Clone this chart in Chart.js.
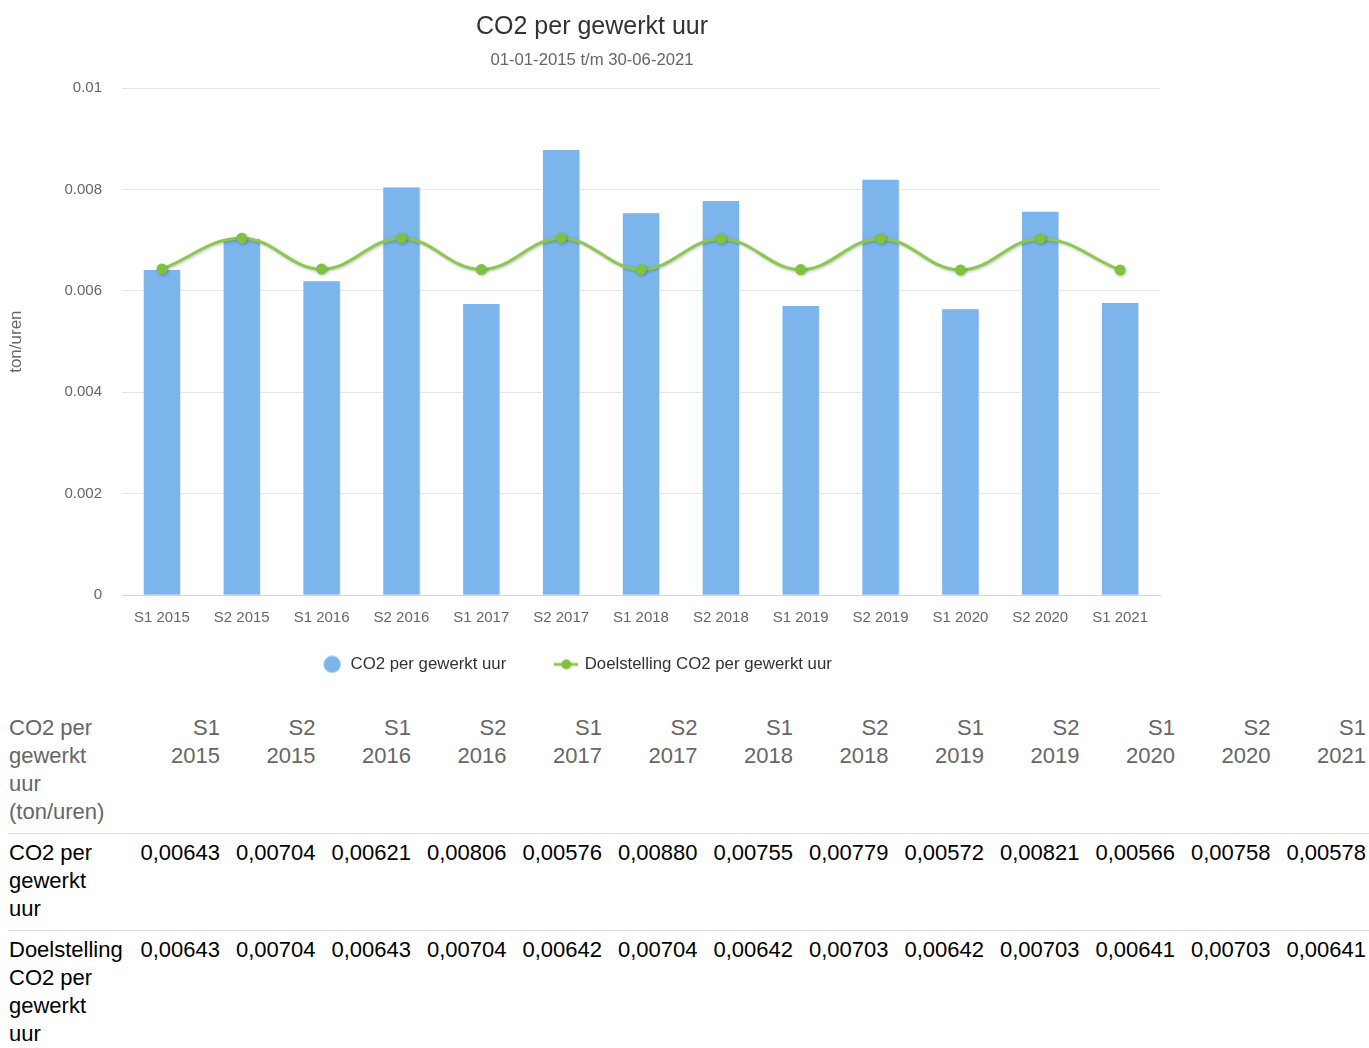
<!DOCTYPE html>
<html>
<head>
<meta charset="utf-8">
<title>CO2 per gewerkt uur</title>
<script src="https://cdn.jsdelivr.net/npm/chart.js@4.4.0/dist/chart.umd.min.js"></script>
<style>
    body { margin: 0; background: #fff; font-family: "Liberation Sans", Arial, sans-serif; }
    #chartBox { position: absolute; left: 0; top: 0; width: 1184px; height: 704px; }
    #dataTable { position: absolute; left: 9px; top: 709px; width: 1360px; border-collapse: collapse; table-layout: fixed; font-size: 22px; line-height: 28px; }
    #dataTable th, #dataTable td { padding: 5px 3px 7px 0; text-align: right; vertical-align: top; font-weight: normal; white-space: nowrap; }
    #dataTable thead th { color: #666; }
    #dataTable tbody th, #dataTable tbody td { color: #000; border-top: 1px solid #ddd; }
    #dataTable .rowHead { text-align: left; }
</style>
</head>
<body>
<div id="chartBox"><canvas id="myChart"></canvas></div>
<table id="dataTable"></table>

<script>
// chart data
const categories = ['S1 2015', 'S2 2015', 'S1 2016', 'S2 2016', 'S1 2017', 'S2 2017', 'S1 2018',
    'S2 2018', 'S1 2019', 'S2 2019', 'S1 2020', 'S2 2020', 'S1 2021'];
const co2PerHour = [0.00643, 0.00704, 0.00621, 0.00806, 0.00576, 0.00880, 0.00755,
    0.00779, 0.00572, 0.00821, 0.00566, 0.00758, 0.00578];
const co2Target = [0.00643, 0.00704, 0.00643, 0.00704, 0.00642, 0.00704, 0.00642,
    0.00703, 0.00642, 0.00703, 0.00641, 0.00703, 0.00641];

const barName = 'CO2 per gewerkt uur';
const lineName = 'Doelstelling CO2 per gewerkt uur';

Chart.defaults.font.family = '"Liberation Sans", Arial, sans-serif';

/* small canvases used as legend symbols */
function legendDot(color) {
    const c = document.createElement('canvas');
    c.width = 18; c.height = 18;
    const g = c.getContext('2d');
    g.fillStyle = color;
    g.beginPath(); g.arc(9, 9, 8.5, 0, Math.PI * 2); g.fill();
    return c;
}

function legendLine(lineColor, dotColor) {
    const c = document.createElement('canvas');
    c.width = 24; c.height = 12;
    const g = c.getContext('2d');
    g.strokeStyle = lineColor; g.lineWidth = 3;
    g.beginPath(); g.moveTo(0, 6); g.lineTo(24, 6); g.stroke();
    g.fillStyle = dotColor;
    g.beginPath(); g.arc(12, 6, 5, 0, Math.PI * 2); g.fill();
    return c;
}

const dotImg = legendDot('#7cb5ec');
const lineImg = legendLine('#8cc850', '#7fc23f');

// soft shadow under the series, like the original
const shadowPlugin = {
    id: 'seriesShadow',
    beforeDatasetDraw(chart, args) {
        const ctx = chart.ctx;
        ctx.save();
        ctx.shadowColor = args.index === 1 ? 'rgba(0,0,0,0.25)' : 'rgba(0,0,0,0.12)';
        ctx.shadowBlur = args.index === 1 ? 3 : 2;
        ctx.shadowOffsetX = 1;
        ctx.shadowOffsetY = 1;
    },
    afterDatasetDraw(chart) {
        chart.ctx.restore();
    }
};

// pull the legend up under the axis labels and a bit to the left
const legendPlace = {
    id: 'legendPlace',
    afterLayout(chart) {
        const lg = chart.legend;
        const h = lg.bottom - lg.top;
        lg.top = 606;
        lg.bottom = 606 + h;
        lg.left -= 15;
        lg.right -= 15;
    }
};

new Chart('myChart', {
    type: 'bar',
    data: {
        labels: categories,
        datasets: [{
            type: 'bar',
            label: barName,
            data: co2PerHour,
            backgroundColor: '#7cb5ec',
            borderColor: '#ffffff',
            borderWidth: 1,
            barPercentage: 0.6,
            categoryPercentage: 0.8,
            order: 1
        }, {
            type: 'line',
            label: lineName,
            data: co2Target,
            borderColor: '#8cc850',
            borderWidth: 3,
            tension: 0.4,
            pointRadius: 5.5,
            pointBackgroundColor: '#7fc23f',
            pointBorderWidth: 0,
            fill: false,
            order: 0
        }]
    },
    plugins: [shadowPlugin, legendPlace],
    options: {
        responsive: true,
        maintainAspectRatio: false,
        animation: false,
        layout: { padding: 0 },
        plugins: {
            title: {
                display: true,
                text: 'CO2 per gewerkt uur',
                color: '#333',
                font: { size: 25, weight: 'normal' },
                padding: { top: 12, bottom: 3 }
            },
            subtitle: {
                display: true,
                text: '01-01-2015 t/m 30-06-2021',
                color: '#666',
                font: { size: 16.7 },
                padding: { top: 5, bottom: 18 }
            },
            legend: {
                position: 'bottom',
                labels: {
                    usePointStyle: true,
                    pointStyleWidth: 20,
                    color: '#333',
                    font: { size: 16.8 },
                    padding: 50,
                    generateLabels: function (chart) {
                        const items = Chart.defaults.plugins.legend.labels.generateLabels(chart);
                        for (let item of items) {
                            item.pointStyle = item.datasetIndex === 0 ? dotImg : lineImg;
                        }
                        return items.sort((a, b) => a.datasetIndex - b.datasetIndex);
                    }
                }
            },
            tooltip: { enabled: false }
        },
        scales: {
            x: {
                grid: { display: false, drawTicks: false },
                border: { color: '#ccd6eb' },
                ticks: { color: '#666', font: { size: 15 }, padding: 14, maxRotation: 0 },
                afterFit: (scale) => { scale.height = 32; }
            },
            y: {
                min: 0,
                max: 0.01,
                ticks: {
                    stepSize: 0.002,
                    color: '#666',
                    font: { size: 15 },
                    padding: 20,
                    callback: (v) => String(+v.toFixed(4))
                },
                grid: { color: '#e6e6e6', drawTicks: false },
                border: { display: false },
                title: {
                    display: true,
                    text: 'ton/uren',
                    color: '#666',
                    font: { size: 17 },
                    padding: { top: 6, bottom: 4 }
                },
                afterFit: (scale) => { scale.width = 122; }
            },
            yRight: {
                position: 'right',
                display: true,
                grid: { display: false },
                border: { display: false },
                ticks: { display: false },
                afterFit: (scale) => { scale.width = 24; }
            }
        }
    }
});

/**
 * builds the data table under the chart from the same arrays
 */
function fmt(v) {
    return v.toFixed(5).replace('.', ',');
}

function buildTable() {
    let ut = "<colgroup><col style='width:118.5px'>";
    for (let i = 0; i < categories.length; i++) {
        ut += "<col style='width:95.5px'>";
    }
    ut += "</colgroup><thead><tr><th class='rowHead'>CO2 per<br>gewerkt<br>uur<br>(ton/uren)</th>";
    for (let c of categories) {
        ut += "<th>" + c.split(' ').join('<br>') + "</th>";
    }
    ut += "</tr></thead><tbody><tr><th class='rowHead'>CO2 per<br>gewerkt<br>uur</th>";
    for (let v of co2PerHour) {
        ut += "<td>" + fmt(v) + "</td>";
    }
    ut += "</tr><tr><th class='rowHead'>Doelstelling<br>CO2 per<br>gewerkt<br>uur</th>";
    for (let v of co2Target) {
        ut += "<td>" + fmt(v) + "</td>";
    }
    ut += "</tr></tbody>";
    document.getElementById('dataTable').innerHTML = ut;
}

buildTable();
</script>
</body>
</html>
